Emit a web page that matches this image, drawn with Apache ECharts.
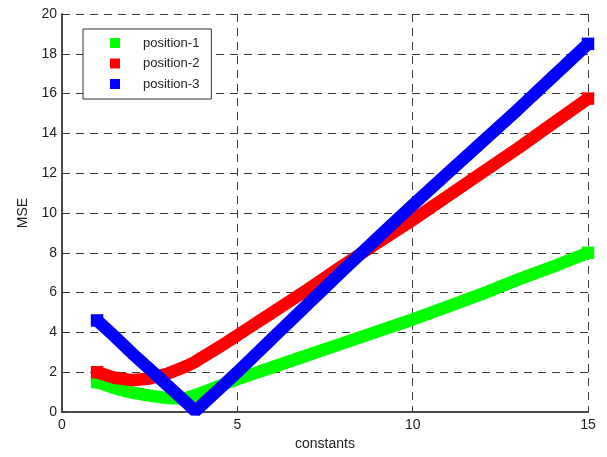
<!DOCTYPE html>
<html>
<head>
<meta charset="utf-8">
<script src="https://cdn.jsdelivr.net/npm/echarts@6/dist/echarts.min.js"></script>
<style>
  html, body { margin: 0; padding: 0; background: #fff; }
  #chart { width: 607px; height: 457px; }
</style>
</head>
<body>
<div id="chart"></div>
<script>
// Sample positions along the "constants" axis
const constants = [1, 1.5, 2, 2.5, 3, 3.5, 3.8, 4, 4.5, 5, 6, 7, 8, 9, 10, 11, 12, 13, 14, 15];

// MSE per position
const position1 = [1.5, 1.2, 0.97, 0.82, 0.7, 0.68, 0.85, 0.98, 1.32, 1.65, 2.25, 2.85, 3.45, 4.05, 4.65, 5.3, 5.95, 6.65, 7.3, 8.0];
const position2 = [2.0, 1.72, 1.6, 1.68, 1.92, 2.27, 2.52, 2.75, 3.28, 3.85, 5.0, 6.15, 7.35, 8.5, 9.65, 10.85, 12.05, 13.25, 14.5, 15.75];
const position3 = [4.6, 3.8, 2.95, 2.15, 1.35, 0.55, 0.05, 0.37, 1.18, 2.0, 3.7, 5.4, 7.1, 8.75, 10.4, 12.0, 13.6, 15.2, 16.85, 18.5];

const seriesNames = ['position-1', 'position-2', 'position-3'];
const seriesColors = ['#00ff00', '#ff0000', '#0000ff'];
const seriesValues = [position1, position2, position3];

const xTicks = { min: 0, max: 15, step: 5 };
const yTicks = { min: 0, max: 20, step: 2 };

const FONT = 'Liberation Sans, Arial, Helvetica, sans-serif';
const MARK = 12.5;

const chart = echarts.init(document.getElementById('chart'), null, { renderer: 'canvas' });

const gridLine = { show: true, lineStyle: { color: '#3a3a3a', width: 1, type: [8, 6] } };

chart.setOption({
  animation: false,
  backgroundColor: '#fff',
  grid: { left: 62, right: 19, top: 14, bottom: 45, containLabel: false },
  legend: {
    orient: 'vertical',
    left: 83,
    top: 29,
    padding: [7, 12, 8, 27],
    backgroundColor: '#fff',
    borderColor: '#333',
    borderWidth: 1,
    borderRadius: 0,
    itemWidth: 10,
    itemHeight: 10,
    itemGap: 6.5,
    icon: 'rect',
    data: seriesNames,
    textStyle: { fontFamily: FONT, fontSize: 13, color: '#222', lineHeight: 14, padding: [0, 0, 0, 18] }
  },
  xAxis: {
    type: 'value',
    min: xTicks.min, max: xTicks.max, interval: xTicks.step,
    name: 'constants',
    nameLocation: 'middle',
    nameGap: 21,
    nameTextStyle: { fontFamily: FONT, fontSize: 14, color: '#222' },
    axisLine: { show: true, onZero: false, lineStyle: { color: '#4a4a4a', width: 2 } },
    axisTick: { show: true, inside: true, length: 4, lineStyle: { color: '#333' } },
    axisLabel: { fontFamily: FONT, fontSize: 14, color: '#222', margin: 6 },
    splitLine: gridLine
  },
  yAxis: {
    type: 'value',
    min: yTicks.min, max: yTicks.max, interval: yTicks.step,
    name: 'MSE',
    nameLocation: 'middle',
    nameGap: 32,
    nameTextStyle: { fontFamily: FONT, fontSize: 14, color: '#222' },
    axisLine: { show: true, onZero: false, lineStyle: { color: '#4a4a4a', width: 2 } },
    axisTick: { show: true, inside: true, length: 4, lineStyle: { color: '#333' } },
    axisLabel: { fontFamily: FONT, fontSize: 14, color: '#222', margin: 5 },
    splitLine: gridLine
  },
  series: seriesNames.map((name, i) => {
    const last = constants.length - 1;
    return {
      name,
      type: 'line',
      showSymbol: true,
      showAllSymbol: true,
      symbol: 'rect',
      // square marks only at the two ends of each curve
      symbolSize: (v, p) => (p.dataIndex === 0 || p.dataIndex === last ? MARK : 0),
      color: seriesColors[i],
      itemStyle: { color: seriesColors[i] },
      lineStyle: { width: MARK, color: seriesColors[i], cap: 'butt', join: 'bevel' },
      data: constants.map((c, j) => [c, seriesValues[i][j]]),
      z: 2 + i
    };
  })
});
</script>
</body>
</html>
